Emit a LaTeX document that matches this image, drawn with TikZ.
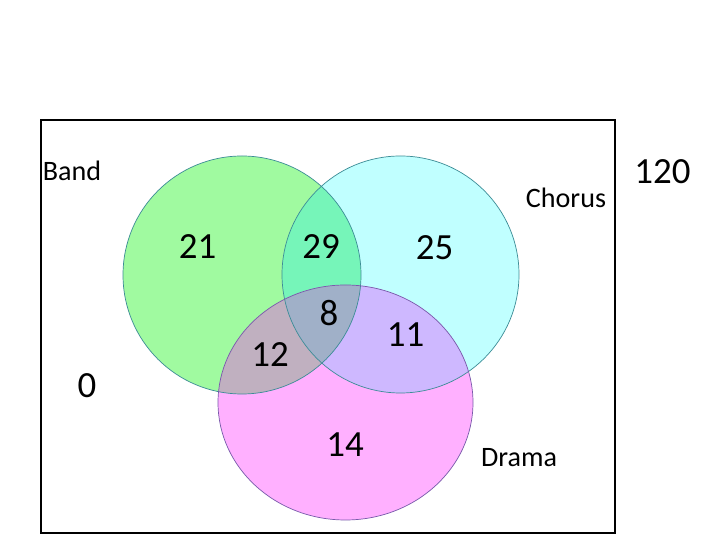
\documentclass[tikz,border=0pt]{standalone}
\usepackage{fontspec}
\setmainfont{Carlito}
\definecolor{bandfill}{RGB}{160,250,160}
\definecolor{chorusfill}{RGB}{192,255,255}
\definecolor{dramafill}{RGB}{255,176,255}
\definecolor{bcfill}{RGB}{118,245,185}
\definecolor{bdfill}{RGB}{192,176,192}
\definecolor{cdfill}{RGB}{206,184,255}
\definecolor{allfill}{RGB}{160,176,200}
\definecolor{tealline}{RGB}{60,140,150}
\definecolor{purpleline}{RGB}{120,90,170}
\newcommand{\bandset}{(242,265) circle [radius=119]}
\newcommand{\chorusset}{(400.5,265.5) circle [radius=118.5]}
\newcommand{\dramaset}{(345.5,137.5) ellipse [x radius=127.5, y radius=117.5]}
\tikzset{
  num/.style={inner sep=0pt, font=\fontsize{31.5}{37}\selectfont},
  setname/.style={inner sep=0pt, font=\fontsize{24}{29}\selectfont}
}
\begin{document}
\begin{tikzpicture}[x=0.03cm,y=0.03cm]
		\useasboundingbox (0,0) rectangle (720,540);
		\fill[white] (0,0) rectangle (720,540);
		\draw[line width=0.9pt] (41,7) rectangle (615,420);
		% the three sets
		\fill[bandfill] \bandset;
		\fill[chorusfill] \chorusset;
		\fill[dramafill] \dramaset;
		\begin{scope} \clip \bandset; \fill[bcfill] \chorusset; \end{scope}
		\begin{scope} \clip \bandset; \fill[bdfill] \dramaset; \end{scope}
		\begin{scope} \clip \chorusset; \fill[cdfill] \dramaset; \end{scope}
		\begin{scope} \clip \bandset; \clip \chorusset; \fill[allfill] \dramaset; \end{scope}
		\draw[tealline, line width=0.6pt] \bandset;
		\draw[tealline, line width=0.6pt] \chorusset;
		\draw[purpleline, line width=0.6pt] \dramaset;
		% labels
		\node[setname] (band) at (72,369) {Band};
		\node[setname] (chorus) at (566,342) {Chorus};
		\node[setname] (drama) at (519,82) {Drama};
		\node[num] (total) at (662.5,368) {120};
		\node[num] (none) at (87,154) {0};
		\node[num] (bonly) at (197.5,293.5) {21};
		\node[num] (bc) at (321,293.5) {29};
		\node[num] (conly) at (434.5,292.5) {25};
		\node[num] (bcd) at (329,226.5) {8};
		\node[num] (bd) at (270,185.5) {12};
		\node[num] (cd) at (405.5,205.5) {11};
		\node[num] (donly) at (345,95) {14};
	\end{tikzpicture}
\end{document}
